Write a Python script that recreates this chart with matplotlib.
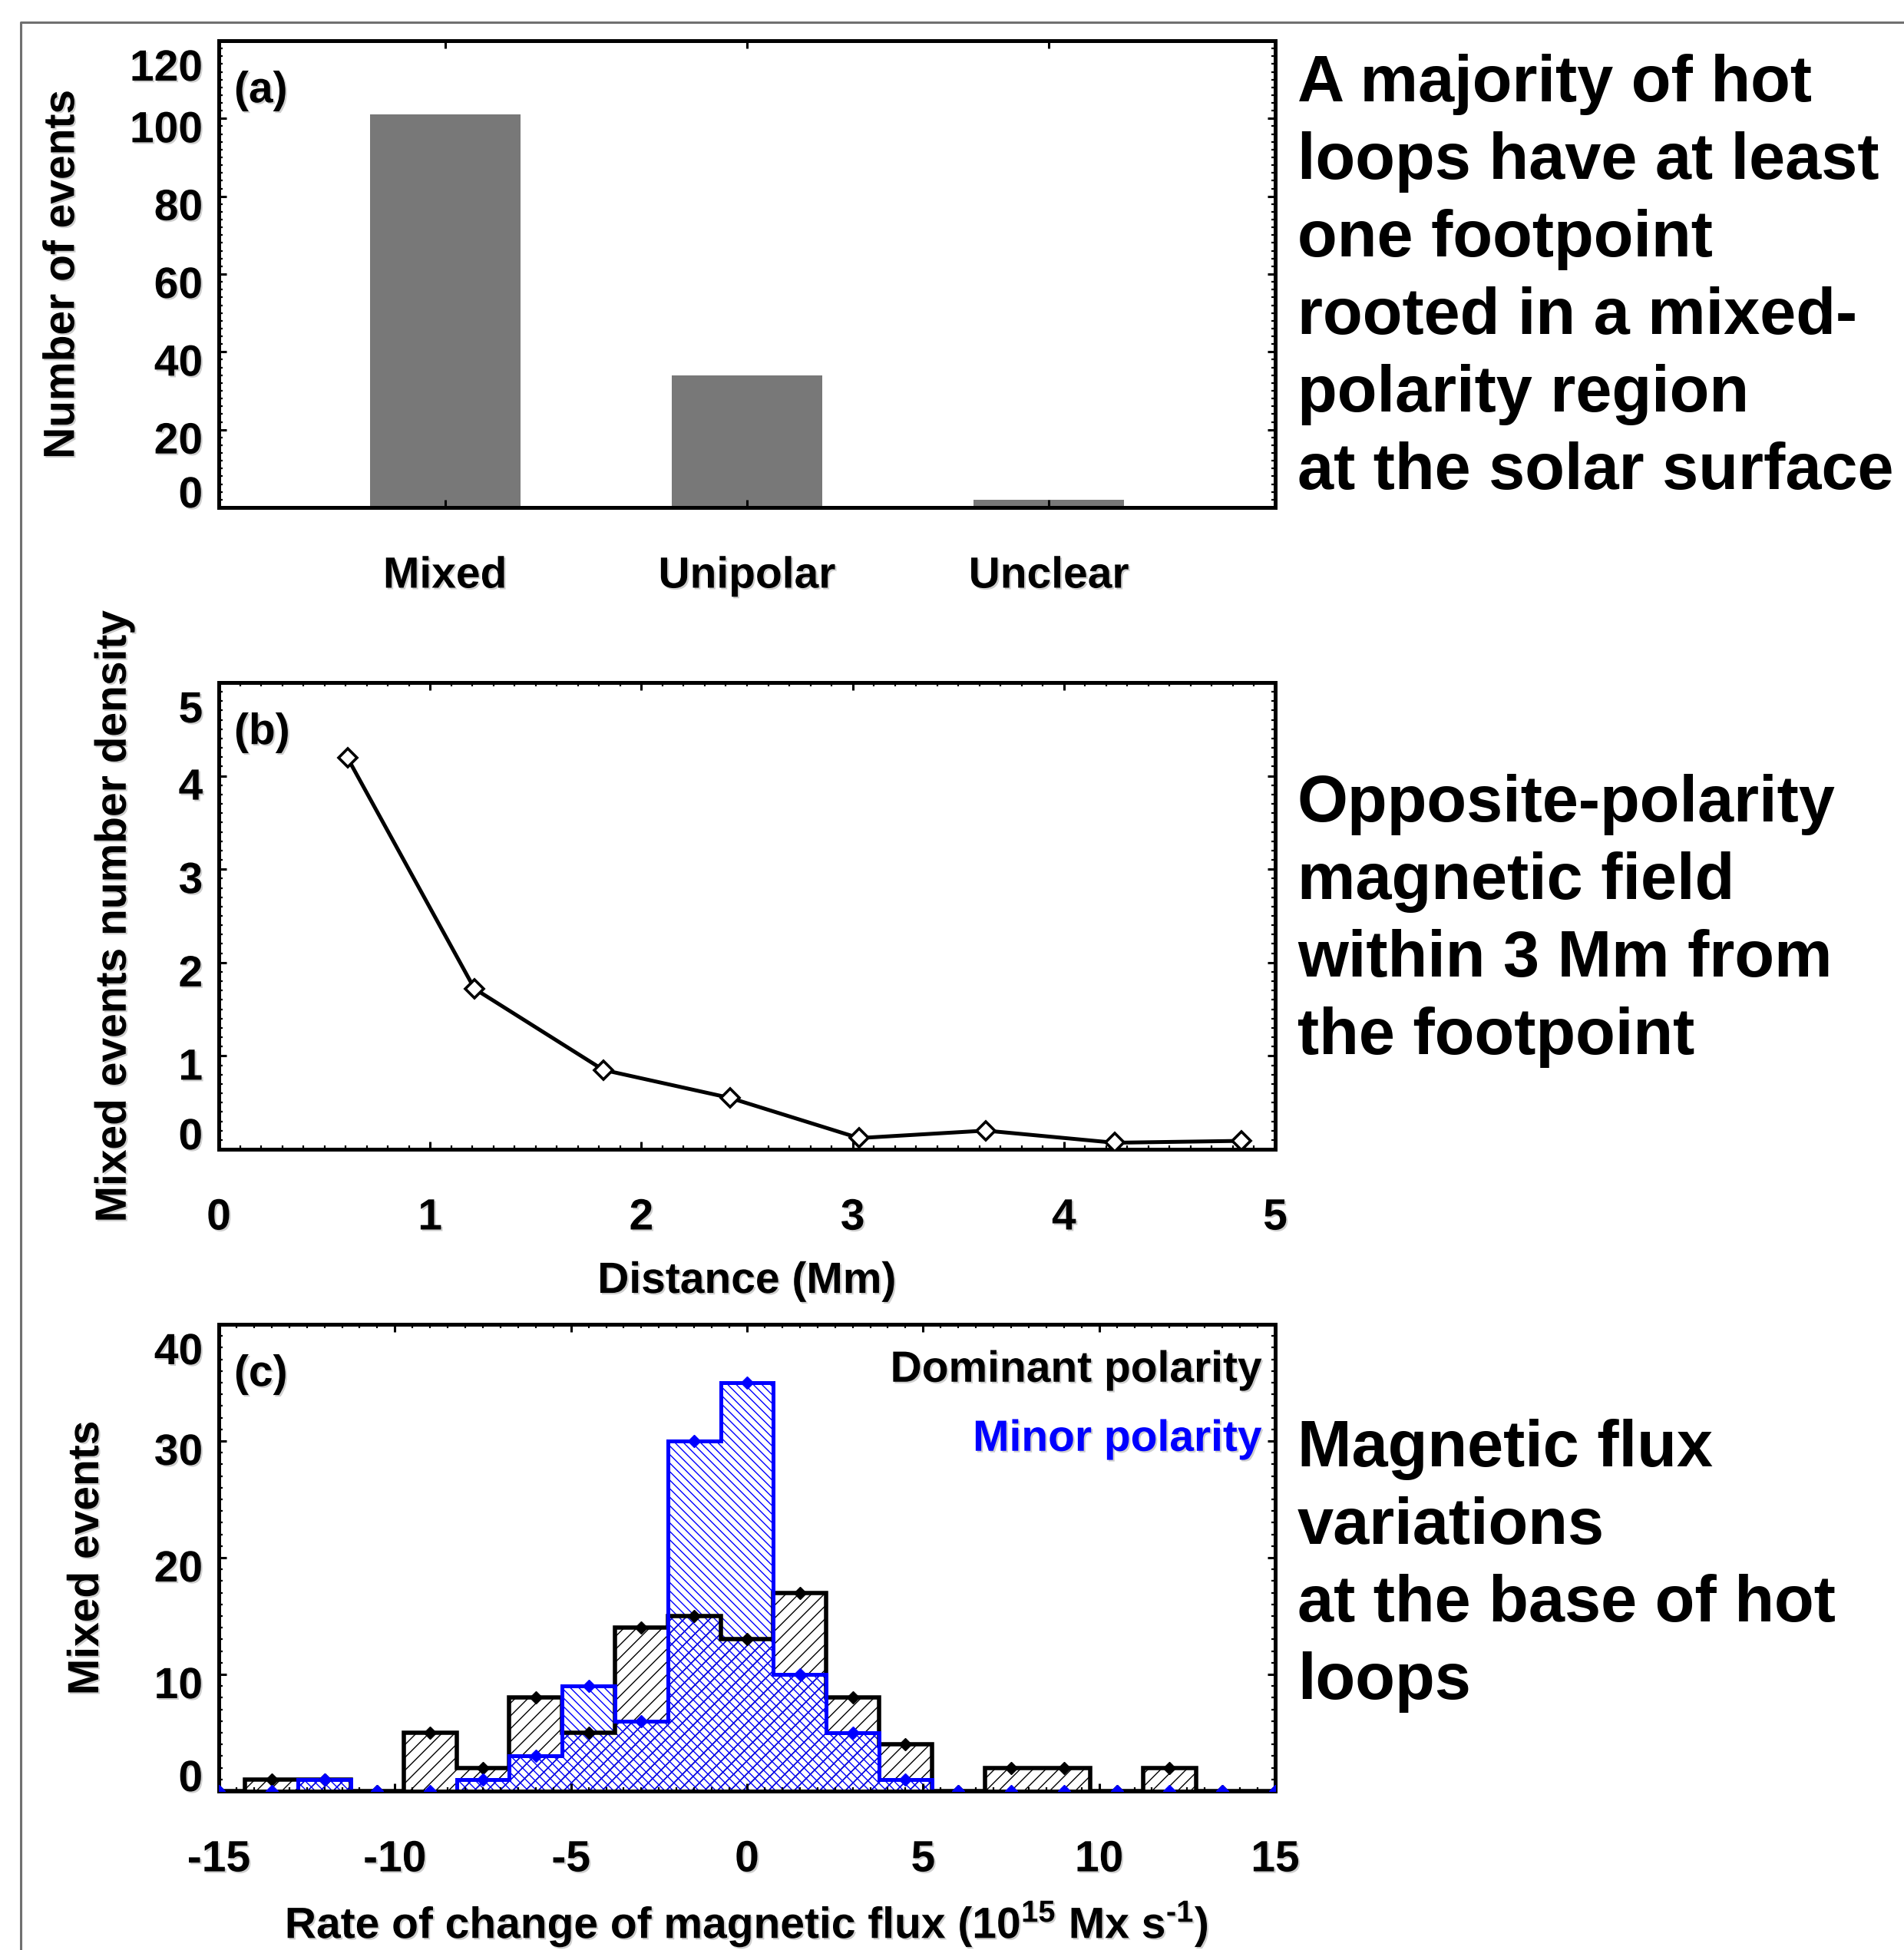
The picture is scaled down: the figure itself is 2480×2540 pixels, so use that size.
from matplotlib import pyplot as plt
from matplotlib import patheffects as pe
from matplotlib.lines import Line2D
from matplotlib.ticker import MultipleLocator
import matplotlib.transforms as mtransforms
import numpy as np

# (a) numero de eventos por tipo de pie
categorias = ['Mixed', 'Unipolar', 'Unclear']
n_eventos = [101, 34, 2]

# (b) densidad de eventos mixtos vs distancia
distancia = [0.61, 1.21, 1.82, 2.42, 3.03, 3.63, 4.24, 4.84]
densidad = [4.19, 1.72, 0.85, 0.55, 0.12, 0.20, 0.07, 0.09]

# (c) histograma de la tasa de cambio del flujo
centros = [-15, -13.5, -12, -10.5, -9, -7.5, -6, -4.5, -3, -1.5, 0,
           1.5, 3, 4.5, 6, 7.5, 9, 10.5, 12, 13.5, 15]
dominante = [0, 1, 1, 0, 5, 2, 8, 5, 14, 15, 13, 17, 8, 4, 0, 2, 2, 0, 2, 0, 0]
menor = [0, 0, 1, 0, 0, 1, 3, 9, 6, 30, 35, 10, 5, 1, 0, 0, 0, 0, 0, 0, 0]

# textos de la derecha
texto_a = ['A majority of hot', 'loops have at least', 'one footpoint',
           'rooted in a mixed-', 'polarity region', 'at the solar surface']
texto_b = ['Opposite-polarity', 'magnetic field', 'within 3 Mm from',
           'the footpoint']
texto_c = ['Magnetic flux', 'variations', 'at the base of hot', 'loops']

plt.rcParams['font.family'] = ['Liberation Sans', 'DejaVu Sans']
plt.rcParams['font.weight'] = 'bold'
plt.rcParams['axes.labelweight'] = 'bold'
plt.rcParams['axes.unicode_minus'] = False
plt.rcParams['mathtext.fontset'] = 'custom'
plt.rcParams['mathtext.rm'] = 'Liberation Sans:bold'
plt.rcParams['mathtext.it'] = 'Liberation Sans:bold'
plt.rcParams['mathtext.bf'] = 'Liberation Sans:bold'
plt.rcParams['hatch.linewidth'] = 1.0

FS = 41
sombra = [pe.withSimplePatchShadow(offset=(1.5, -1.5), shadow_rgbFace='0.45', alpha=0.35)]

W, H = 2480, 2540
fig = plt.figure(figsize=(W / 100, H / 100), dpi=100)

def caja(top_px):
  # ejes en pixeles de la figura
  return fig.add_axes([285 / W, 1 - (top_px + 608) / H, 1376 / W, 608 / H])

def estilo(ax, ymin_loc, xmin_loc=None):
  for s in ax.spines.values():
    s.set_linewidth(3.6)
  ax.tick_params(which='both', direction='in', top=True, right=True)
  ax.tick_params(which='major', length=7, width=2.2, labelsize=FS)
  ax.tick_params(which='minor', length=3.5, width=1.6)
  ax.tick_params(axis='x', pad=45)
  ax.tick_params(axis='y', pad=15)
  ax.yaxis.set_minor_locator(MultipleLocator(ymin_loc))
  if xmin_loc is not None:
    ax.xaxis.set_minor_locator(MultipleLocator(xmin_loc))
  else:
    ax.xaxis.set_minor_locator(plt.NullLocator())

def ajustar_ylabels(ax):
  # como IDL: el primero y el ultimo quedan dentro del rango
  fig.canvas.draw()
  labs = ax.get_yticklabels()
  baja = mtransforms.ScaledTranslation(0, -0.1, fig.dpi_scale_trans)
  for i, t in enumerate(labs):
    if i == 0:
      t.set_va('baseline')
    elif i == len(labs) - 1:
      t.set_va('top')
      t.set_transform(t.get_transform() + baja)
    else:
      t.set_transform(t.get_transform() + baja)

def sombrear(ax):
  for t in ax.get_xticklabels() + ax.get_yticklabels():
    t.set_path_effects(sombra)
  ax.xaxis.label.set_path_effects(sombra)
  ax.yaxis.label.set_path_effects(sombra)

# ---- (a)
ax1 = caja(53)
xs = np.arange(1, len(categorias) + 1)
ax1.bar(xs, n_eventos, width=0.5, color='#787878')
ax1.set_xlim(0.25, 3.75)
ax1.set_ylim(0, 120)
ax1.set_xticks(xs)
ax1.set_xticklabels(categorias)
ax1.set_yticks(np.arange(0, 121, 20))
estilo(ax1, 2)
ax1.set_ylabel('Number of events', fontsize=FS, va='center')
ax1.yaxis.set_label_coords(-0.148, 0.5)
ax1.text(0.0145, 0.868, '(a)', transform=ax1.transAxes, fontsize=FS,
         va='baseline', path_effects=sombra)

# ---- (b)
ax2 = caja(889)
ax2.plot(distancia, densidad, color='black', lw=3.6, marker='D', ms=12,
         mfc='white', mec='black', mew=2.6, zorder=3)
ax2.set_xlim(0, 5)
ax2.set_ylim(0, 5)
ax2.set_xticks(np.arange(0, 6, 1))
ax2.set_yticks(np.arange(0, 6, 1))
estilo(ax2, 0.1, 0.1)
ax2.set_xlabel('Distance (Mm)', fontsize=FS, va='center')
ax2.xaxis.set_label_coords(0.5, -0.283)
ax2.set_ylabel('Mixed events number density', fontsize=FS, va='center')
ax2.yaxis.set_label_coords(-0.099, 0.5)
ax2.text(0.0145, 0.868, '(b)', transform=ax2.transAxes, fontsize=FS,
         va='baseline', path_effects=sombra)

# ---- (c)
ax3 = caja(1725)
c = np.array(centros)
bordes = np.append(c - 0.75, c[-1] + 0.75)
solapa = np.minimum(dominante, menor)
ax3.bar(c, dominante, width=1.5, facecolor='white', edgecolor='black',
        hatch='//', linewidth=0, zorder=1)
ax3.bar(c, menor, width=1.5, facecolor='none', edgecolor='blue',
        hatch='\\\\\\', linewidth=0, zorder=1.1)
ax3.bar(c, solapa, width=1.5, facecolor='none', edgecolor='blue',
        hatch='//', linewidth=0, zorder=1.2)
ax3.stairs(dominante, bordes, color='black', lw=4.0, baseline=0, zorder=1.5)
ax3.stairs(menor, bordes, color='blue', lw=3.6, baseline=0, zorder=1.6)
ax3.plot(c, dominante, 'D', color='black', ms=8, zorder=3)
ax3.plot(c, menor, 'D', color='blue', ms=8, zorder=3.1)
ax3.set_xlim(-15, 15)
ax3.set_ylim(0, 40)
ax3.set_xticks(np.arange(-15, 16, 5))
ax3.set_yticks(np.arange(0, 41, 10))
estilo(ax3, 1, 0.5)
ax3.set_xlabel('Rate of change of magnetic flux (10$^{15}$ Mx s$^{\\text{-1}}$)',
               fontsize=FS, va='center')
ax3.xaxis.set_label_coords(0.5, -0.285)
ax3.set_ylabel('Mixed events', fontsize=FS, va='center')
ax3.yaxis.set_label_coords(-0.125, 0.5)
ax3.text(0.0145, 0.868, '(c)', transform=ax3.transAxes, fontsize=FS,
         va='baseline', path_effects=sombra)
ax3.text(0.9877, 0.877, 'Dominant polarity', transform=ax3.transAxes,
         fontsize=FS, ha='right', va='baseline', color='black', path_effects=sombra)
ax3.text(0.9877, 0.729, 'Minor polarity', transform=ax3.transAxes,
         fontsize=FS, ha='right', va='baseline', color='blue', path_effects=sombra)

for ax in (ax1, ax2, ax3):
  ajustar_ylabels(ax)
  sombrear(ax)

# textos a la derecha, linea por linea
for lineas, y0 in ((texto_a, 132), (texto_b, 1070), (texto_c, 1910)):
  for i, s in enumerate(lineas):
    fig.text(1690 / W, 1 - (y0 + 101 * i) / H, s, fontsize=61,
             fontweight='bold', va='baseline', ha='left')

# marco gris exterior
fig.add_artist(Line2D([27 / W, 27 / W, 1], [0, 1 - 29 / H, 1 - 29 / H],
                      transform=fig.transFigure, color='#707070', lw=2.2))

fig.savefig('out.png', dpi=100)
